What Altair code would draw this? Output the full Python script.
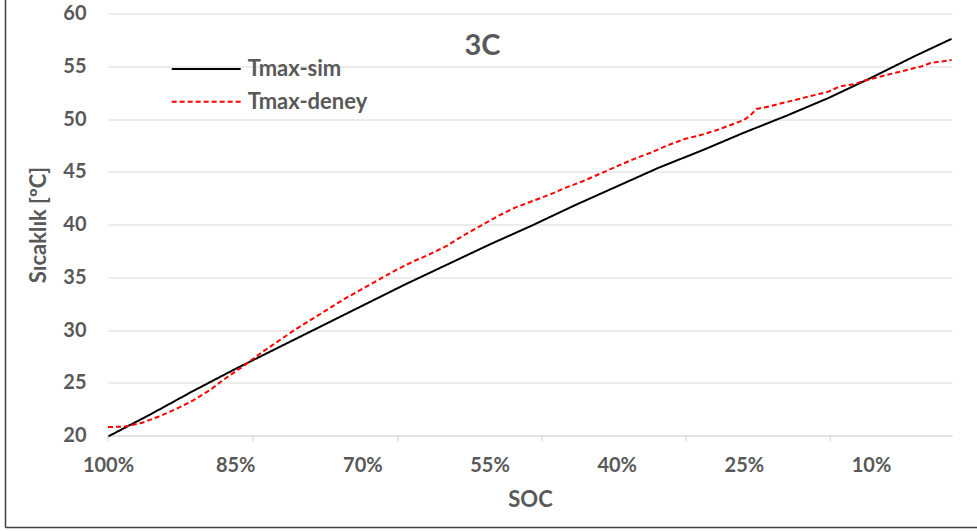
import altair as alt
import pandas as pd

# ---- data ----
sim_soc = [100, 95, 90, 85, 80, 75, 70, 65, 60, 55, 50, 45, 40, 35, 30, 25, 20, 15, 10, 5, 0.5]
sim_t = [19.9, 22.0, 24.2, 26.3, 28.3, 30.3, 32.3, 34.3, 36.2, 38.1, 39.9, 41.8, 43.6,
         45.4, 47.0, 48.7, 50.3, 52.0, 53.9, 55.9, 57.6]

deney_soc = [100, 98, 96, 94, 92, 90, 88, 86, 84, 82, 80, 78, 76, 74, 72, 70, 68, 66, 64,
             62, 60, 58, 56, 54, 52, 50, 48, 46, 44, 42, 40, 38, 36, 34, 32, 30, 28, 26,
             25, 24.3, 23.5, 22, 20, 18, 16, 15, 13.7, 12, 10.9, 9, 7, 6, 4, 3, 0.5]
deney_t = [20.8, 20.85, 21.2, 21.8, 22.5, 23.3, 24.3, 25.5, 26.6, 27.8, 28.9, 30.0, 31.0,
           32.0, 33.0, 33.9, 34.8, 35.7, 36.5, 37.2, 38.0, 39.0, 39.9, 40.8, 41.6, 42.2,
           42.8, 43.5, 44.1, 44.8, 45.5, 46.2, 46.8, 47.5, 48.1, 48.5, 49.0, 49.6, 49.9,
           50.3, 50.95, 51.2, 51.6, 52.0, 52.4, 52.6, 53.1, 53.3, 53.6, 54.0, 54.4, 54.6,
           55.0, 55.3, 55.6]

series_names = ["Tmax-sim", "Tmax-deney"]
series_colors = ["#000000", "#ff0000"]
series_dash = [[1, 0], [5, 3]]

x_label_values = [100, 85, 70, 55, 40, 25, 10]
x_tick_values = [100, 82.9, 65.8, 48.8, 31.8, 14.8]
y_values = [20, 25, 30, 35, 40, 45, 50, 55, 60]

chart_title = "3C"
x_title = "SOC"
y_title = "Sıcaklık [ºC]"

# ---- layout ----
W, H = 844, 422
FONT = "Lato"
GRAY = "#595959"
GRID = "#d9d9d9"

df = pd.concat([
    pd.DataFrame({"soc": sim_soc, "t": sim_t, "series": series_names[0]}),
    pd.DataFrame({"soc": deney_soc, "t": deney_t, "series": series_names[1]}),
])

xscale = alt.Scale(domain=[100, 0.45], nice=False, zero=False)
yscale = alt.Scale(domain=[20, 60], nice=False, zero=False)

lines = alt.Chart(df).mark_line(strokeWidth=2).encode(
    x=alt.X("soc:Q", scale=xscale,
            axis=alt.Axis(values=x_label_values, labelExpr="datum.value + '%'",
                          grid=False, ticks=False, domain=True, domainColor=GRID,
                          domainWidth=1, labelFont=FONT, labelFontSize=20,
                          labelFontWeight="bold", labelColor=GRAY, labelPadding=20,
                          title=x_title, titleFont=FONT, titleFontSize=22,
                          titleFontWeight="bold", titleColor=GRAY, titlePadding=14,
                          labelFlush=False, labelOverlap=False)),
    y=alt.Y("t:Q", scale=yscale,
            axis=alt.Axis(values=y_values, grid=True, gridColor=GRID, gridWidth=1.2,
                          ticks=False, domain=False, labelFont=FONT, labelFontSize=20,
                          labelFontWeight="bold", labelColor=GRAY, labelPadding=22,
                          title=y_title, titleFont=FONT, titleFontSize=22,
                          titleFontWeight="bold", titleColor=GRAY, titlePadding=12)),
    color=alt.Color("series:N", scale=alt.Scale(domain=series_names, range=series_colors),
                    legend=None),
    strokeDash=alt.StrokeDash("series:N",
                              scale=alt.Scale(domain=series_names, range=series_dash),
                              legend=None),
    detail="series:N",
)

ticks = alt.Chart(pd.DataFrame({"soc": x_tick_values})).mark_rule(
    color=GRID, strokeWidth=1.2).encode(
    x=alt.X("soc:Q", scale=xscale),
    y=alt.value(H), y2=alt.value(H + 6))

title_mark = alt.Chart(pd.DataFrame({"t": [chart_title]})).mark_text(
    font=FONT, fontSize=29, fontWeight="bold", color=GRAY, align="center",
    baseline="alphabetic").encode(text="t:N", x=alt.value(374.5), y=alt.value(41.5))

legend_layers = []
for i, name in enumerate(series_names):
    ly = 55.5 + i * 32.7
    legend_layers.append(
        alt.Chart(pd.DataFrame({"s": [name]})).mark_rule(
            color=series_colors[i], strokeWidth=2, strokeDash=series_dash[i]).encode(
            x=alt.value(63.7), x2=alt.value(132.7), y=alt.value(ly)))
    legend_layers.append(
        alt.Chart(pd.DataFrame({"s": [name]})).mark_text(
            font=FONT, fontSize=22, fontWeight="bold", color=GRAY, align="left",
            baseline="middle").encode(text="s:N", x=alt.value(139.7), y=alt.value(ly)))

border = [
    alt.Chart(pd.DataFrame({"a": [0]})).mark_rule(color="#404040", strokeWidth=1.5).encode(
        x=alt.value(-102.5), y=alt.value(-13.5), y2=alt.value(514)),
    alt.Chart(pd.DataFrame({"a": [0]})).mark_rule(color="#404040", strokeWidth=1.5).encode(
        x=alt.value(-102.5), x2=alt.value(W + 25), y=alt.value(514)),
]

chart = alt.layer(lines, ticks, title_mark, *legend_layers, *border).properties(
    width=W, height=H,
    autosize=alt.AutoSizeParams(type="none"),
    padding={"left": 108, "top": 13.5, "right": 25, "bottom": 95.5},
    background="white",
).configure_view(stroke=None)

chart.save("out.html", embed_options={"renderer": "svg", "actions": False})
